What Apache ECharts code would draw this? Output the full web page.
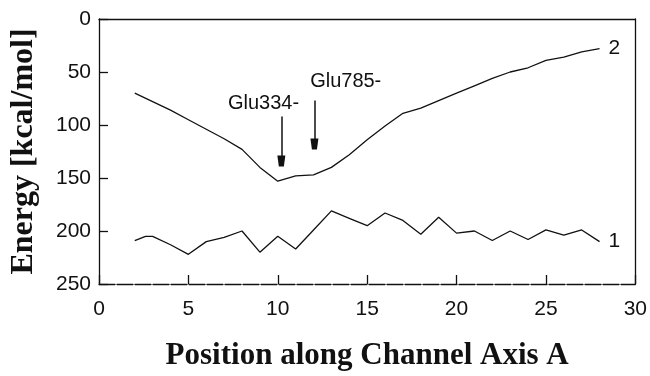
<!DOCTYPE html>
<html>
<head>
    <meta charset="utf-8">
    <title>Energy profile</title>
    <style>
        html, body { margin: 0; padding: 0; background: #fff; }
        #chart { width: 650px; height: 376px; }
    </style>
</head>
<body>
    <div id="chart"></div>
<script src="https://cdn.jsdelivr.net/npm/echarts@6/dist/echarts.min.js"></script>
<script>
    // curve 1 (lower)
    var pos1 = [2, 2.6, 3, 4, 5, 6, 7, 8, 9, 10, 11, 12, 13, 14, 15, 16, 17, 18, 19, 20, 21, 22, 23, 24, 25, 26, 27, 28];
    var energy1 = [209, 205, 205, 213, 222, 210, 206, 200, 220, 205, 217, 199, 181, 188, 195, 183, 190, 203, 187, 202, 200, 209, 200, 208, 199, 204, 199, 210];
    // curve 2 (upper)
    var pos2 = [2, 3, 4, 5, 6, 7, 8, 9, 10, 11, 12, 13, 14, 15, 16, 17, 18, 19, 20, 21, 22, 23, 24, 25, 26, 27, 28];
    var energy2 = [70, 78, 86, 95, 104, 113, 123, 140, 153, 148, 147, 140, 128, 114, 101, 89, 84, 77, 70, 63, 56, 50, 46, 39, 36, 31, 28];
    var xTicks = [0, 5, 10, 15, 20, 25, 30];
    var yTicks = [0, 50, 100, 150, 200, 250];
    // residue arrows: [position, from energy, to energy]
    var glu334 = [10.2, 92, 134];
    var glu785 = [12.05, 77, 118];

    function pairs(xs, ys) {
        var out = [];
        for (var i = 0; i < xs.length; i++) out.push([xs[i], ys[i]]);
        return out;
    }

    var sans = 'Liberation Sans, Arial, sans-serif';
    var serif = 'Liberation Serif, Times New Roman, serif';
    var head = 'path://M1.5,0 L6.5,0 L8,11 L0,11 Z';

    var myChart = echarts.init(document.getElementById('chart'));
    var option = {
        animation: false,
        grid: { left: 99, right: 14, top: 19, bottom: 89 },
        xAxis: [
            {
                type: 'value',
                min: xTicks[0],
                max: xTicks[xTicks.length - 1],
                interval: 5,
                name: 'Position along Channel Axis A',
                nameLocation: 'middle',
                nameGap: 56,
                nameTextStyle: { fontFamily: serif, fontWeight: 'bold', fontSize: 31, color: '#111' },
                axisLine: { onZero: false, lineStyle: { color: '#111', width: 1.3, type: [16, 2] } },
                axisTick: { inside: true, length: 9, lineStyle: { color: '#111', width: 1.3 } },
                axisLabel: { fontFamily: sans, fontSize: 21, color: '#111', margin: 15 },
                splitLine: { show: false }
            },
            {
                type: 'value', position: 'top',
                min: xTicks[0], max: xTicks[xTicks.length - 1],
                axisLine: { show: true, onZero: false, lineStyle: { color: '#111', width: 1.3 } },
                axisTick: { show: false }, axisLabel: { show: false }, splitLine: { show: false }
            }
        ],
        yAxis: [
            {
                type: 'value',
                inverse: true,
                min: yTicks[0],
                max: yTicks[yTicks.length - 1],
                interval: 50,
                name: 'Energy [kcal/mol]',
                nameLocation: 'middle',
                nameGap: 59,
                nameTextStyle: { fontFamily: serif, fontWeight: 'bold', fontSize: 32, color: '#111' },
                axisLine: { show: true, onZero: false, lineStyle: { color: '#111', width: 1.3 } },
                axisTick: { show: true, inside: true, length: 9, lineStyle: { color: '#111', width: 1.3 } },
                axisLabel: { fontFamily: sans, fontSize: 21, color: '#111', margin: 8 },
                splitLine: { show: false }
            },
            {
                type: 'value', position: 'right', inverse: true,
                min: yTicks[0], max: yTicks[yTicks.length - 1],
                axisLine: { show: true, onZero: false, lineStyle: { color: '#111', width: 1.3 } },
                axisTick: { show: false }, axisLabel: { show: false }, splitLine: { show: false }
            }
        ],
        series: [
            {
                name: '1',
                type: 'line',
                data: pairs(pos1, energy1),
                showSymbol: false,
                symbol: 'none',
                lineStyle: { color: '#111', width: 1.3 },
                endLabel: { show: true, formatter: '1', fontFamily: sans, fontSize: 21, color: '#111', distance: 9 }
            },
            {
                name: '2',
                type: 'line',
                data: pairs(pos2, energy2),
                showSymbol: false,
                symbol: 'none',
                lineStyle: { color: '#111', width: 1.3 },
                endLabel: { show: true, formatter: '2', fontFamily: sans, fontSize: 21, color: '#111', distance: 9 },
                markLine: {
                    silent: true,
                    symbol: ['none', head],
                    symbolSize: [8, 11],
                    label: { show: false },
                    lineStyle: { color: '#111', width: 1.5, type: 'solid' },
                    data: [
                        [{ coord: [glu334[0], glu334[1]] }, { coord: [glu334[0], glu334[2]] }],
                        [{ coord: [glu785[0], glu785[1]] }, { coord: [glu785[0], glu785[2]] }]
                    ]
                },
                markPoint: {
                    silent: true,
                    symbol: 'circle',
                    symbolSize: 0,
                    label: {
                        show: true, formatter: '{b}', fontFamily: sans, fontSize: 20, color: '#111',
                        position: 'inside'
                    },
                    data: [
                        { name: 'Glu334-', coord: [9.2, 80] },
                        { name: 'Glu785-', coord: [13.8, 59] }
                    ]
                }
            }
        ]
    };
    myChart.setOption(option);
</script>
</body>
</html>
